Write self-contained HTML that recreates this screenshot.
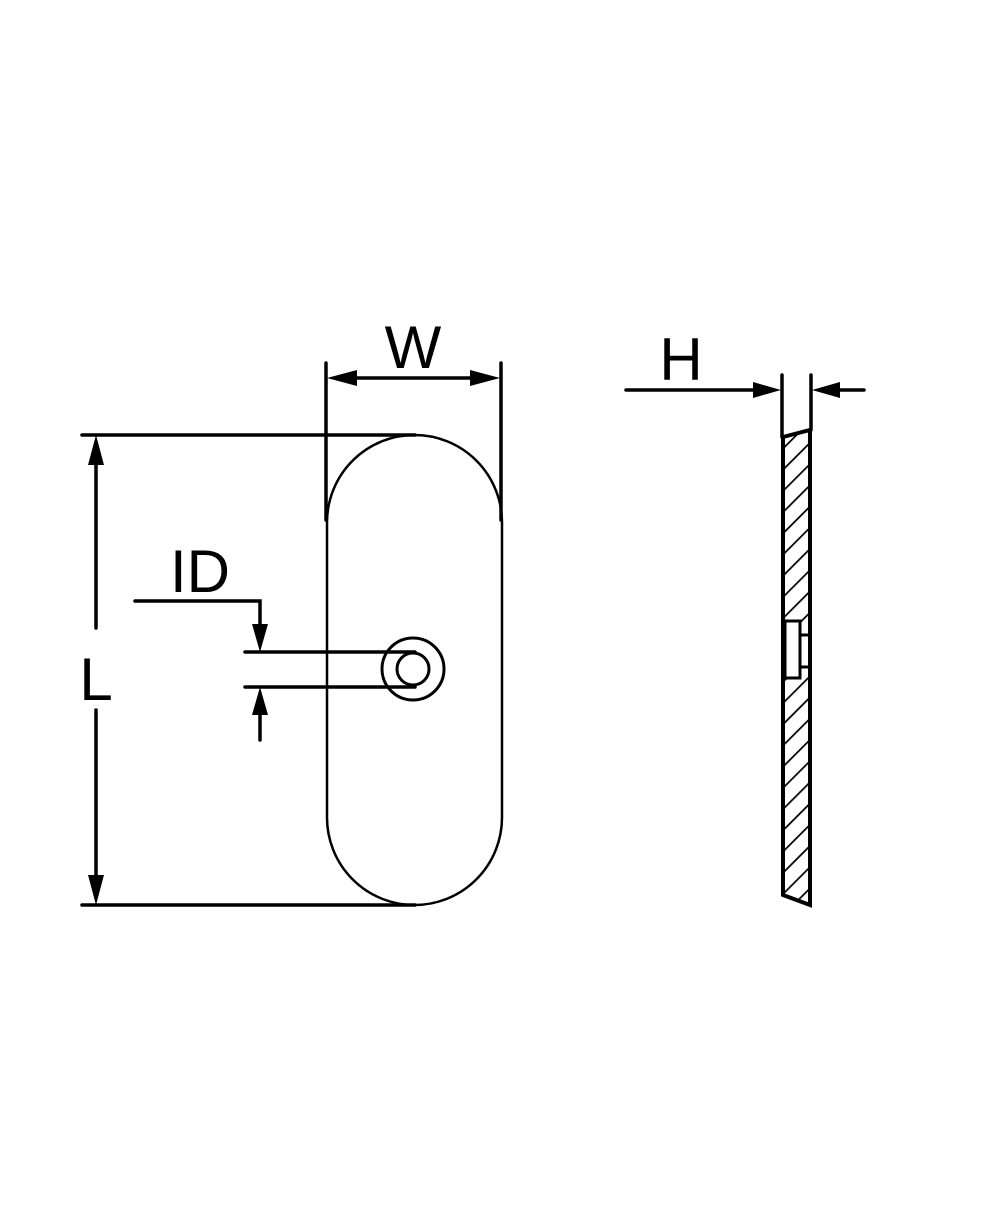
<!DOCTYPE html>
<html><head><style>
html,body{margin:0;padding:0;background:#fff;}
svg{display:block;}
text{font-family:"Liberation Sans",sans-serif;font-size:60px;fill:#000;}
</style></head><body>
<svg width="1000" height="1205" viewBox="0 0 1000 1205">
<defs>
<pattern id="h" width="15" height="15" patternUnits="userSpaceOnUse" patternTransform="rotate(45)">
<line x1="0" y1="0" x2="0" y2="15" stroke="#000" stroke-width="3.5"/>
</pattern>
</defs>
<g stroke="#000" stroke-linecap="round" fill="none">
<rect x="327" y="435" width="175" height="470" rx="87.5" ry="87.5" stroke-width="2.5"/>
<line x1="82" y1="435" x2="415" y2="435" stroke-width="3.5"/>
<line x1="82" y1="905" x2="415" y2="905" stroke-width="3.5"/>
<line x1="96" y1="462" x2="96" y2="628" stroke-width="3.5"/>
<line x1="96" y1="710" x2="96" y2="878" stroke-width="3.5"/>
<line x1="326" y1="363" x2="326" y2="520" stroke-width="3.5"/>
<line x1="501" y1="363" x2="501" y2="520" stroke-width="3.5"/>
<line x1="350" y1="378" x2="477" y2="378" stroke-width="3.5"/>
<polyline points="135,601 260,601 260,625" stroke-width="3.5"/>
<line x1="245" y1="652" x2="415" y2="652" stroke-width="3.5"/>
<line x1="245" y1="687" x2="415" y2="687" stroke-width="3.5"/>
<line x1="260" y1="712" x2="260" y2="740" stroke-width="3.5"/>
<circle cx="413" cy="669" r="31" stroke-width="3"/>
<circle cx="413" cy="669" r="16" stroke-width="3"/>
<line x1="626" y1="390" x2="758" y2="390" stroke-width="3.5"/>
<line x1="835" y1="390" x2="864" y2="390" stroke-width="3.5"/>
<line x1="782" y1="375" x2="782" y2="437" stroke-width="3.5"/>
<line x1="811" y1="375" x2="811" y2="430" stroke-width="3.5"/>
</g>
<polygon points="783,437 810,430 810,905 783,895" fill="url(#h)"/>
<rect x="785" y="621" width="15" height="57" fill="#fff"/>
<rect x="800" y="635" width="10" height="32" fill="#fff"/>
<g stroke="#000" fill="none" stroke-width="4">
<polygon points="783,437 810,430 810,905 783,895"/>
<rect x="785" y="621" width="15" height="57" stroke-width="3"/>
<rect x="800" y="635" width="10" height="32" stroke-width="3"/>
</g>
<g fill="#000">
<polygon points="96,435 88,465 104,465"/>
<polygon points="96,905 88,875 104,875"/>
<polygon points="327,378 357,370 357,386"/>
<polygon points="500,378 470,370 470,386"/>
<polygon points="260,652 252,624 268,624"/>
<polygon points="260,687 252,715 268,715"/>
<polygon points="781,390 753,382 753,398"/>
<polygon points="812,390 840,382 840,398"/>
</g>
<text x="413" y="368" text-anchor="middle">W</text>
<text x="681" y="380" text-anchor="middle">H</text>
<text x="200" y="592" text-anchor="middle">ID</text>
<text x="96" y="700" text-anchor="middle">L</text>
</svg>
</body></html>
